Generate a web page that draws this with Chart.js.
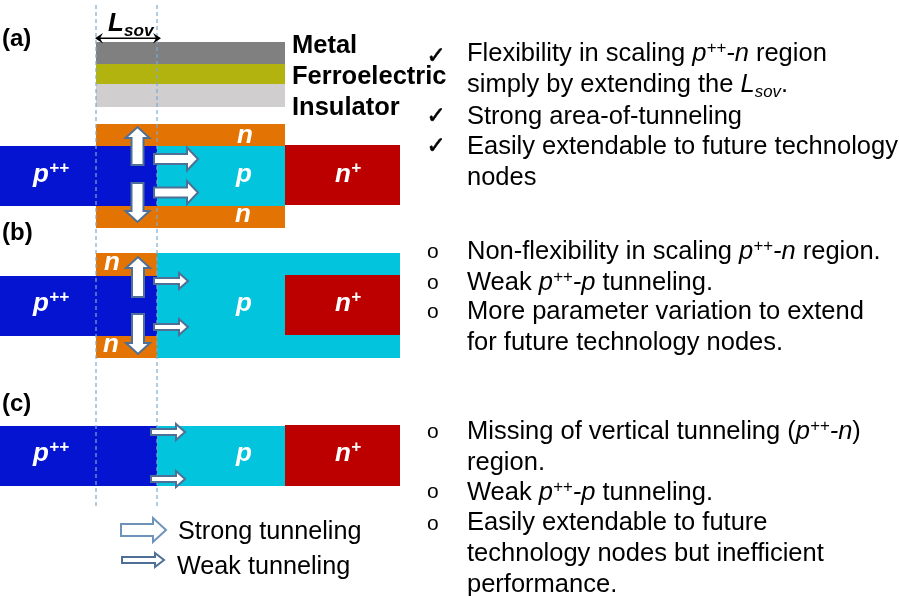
<!DOCTYPE html>
<html>
<head>
<meta charset="utf-8">
<title>Tunneling regions</title>
<script src="https://cdn.jsdelivr.net/npm/chart.js@4/dist/chart.umd.js"></script>
<style>
  html, body { margin: 0; padding: 0; background: #fff; }
  canvas { display: block; }
</style>
</head>
<body>
<canvas id="myChart" width="899" height="596"></canvas>
<script>
// Regions of the three device cross sections, listed back to front
const regionNames  = ['metal', 'ferroelectric', 'insulator', 'a n top', 'a n bottom', 'a p++', 'a p', 'a n+',
                      'b p', 'b n top', 'b n bottom', 'b p++', 'b n+', 'c p++', 'c p', 'c n+'];
const regionLeft   = [96, 96, 96, 96, 96, 0, 157, 285, 157, 96, 96, 0, 285, 0, 157, 285];
const regionRight  = [285, 285, 285, 285, 285, 157, 285, 400, 400, 157, 157, 157, 400, 157, 285, 400];
const regionTop    = [42, 64, 84, 124, 206, 146, 146, 145, 253, 253, 336, 276, 275, 426, 426, 425];
const regionBottom = [64, 84, 107, 146, 228, 206, 206, 205, 358, 276, 358, 336, 335, 486, 486, 486];

const GREY = '#808080', OLIVE = '#b3b30f', LIGHT = '#d0cece', ORANGE = '#e37403',
      BLUE = '#0414d0', CYAN = '#02c4dc', RED = '#bc0000';
const regionColors = [GREY, OLIVE, LIGHT, ORANGE, ORANGE, BLUE, CYAN, RED,
                      CYAN, ORANGE, ORANGE, BLUE, RED, BLUE, CYAN, RED];

// L_sov guides
const guideX = [96, 157];
const guideY = [5, 506];

// Tunneling arrows: tail, tip, half widths and head length
const arrowTailX = [137.5, 137.5, 154, 154, 138, 138, 154, 154, 151, 151, 121, 122];
const arrowTailY = [165, 183, 159, 192.5, 297, 314, 281, 327, 432, 479, 530, 560];
const arrowTipX  = [137.5, 137.5, 198, 198, 138, 138, 188, 188, 185, 185, 166, 164];
const arrowTipY  = [127, 222, 159, 192.5, 257, 354, 281, 327, 432, 479, 530, 560];
const arrowShaft = [6, 6, 5, 5, 6, 6, 3, 3, 3, 3, 6, 3];
const arrowHead  = [12, 12, 11.5, 11.5, 12, 12, 8, 8, 8, 8, 12, 7];
const arrowLen   = [11, 11, 11, 11, 11, 11, 9, 9, 9, 9, 13, 9];
const arrowEdge  = ['#4f7096', '#4f7096', '#4f7096', '#4f7096', '#4f7096', '#4f7096', '#4f7096', '#4f7096', '#4f7096', '#4f7096', '#6f93b8', '#4f7096'];

// Text: {i:} italic, {s:} superscript, {u:} subscript
const panelLabels = ['(a)', '(b)', '(c)'];
const panelY = [46, 240, 411];
const layerLabels = ['Metal', 'Ferroelectric', 'Insulator'];
const layerY = [53, 84, 115];
const legendLabels = ['Strong tunneling', 'Weak tunneling'];
const legendX = [178, 177];
const legendY = [539, 574];

const deviceLabels = ['{i:p}{s:++}', '{i:p}', '{i:n}{s:+}', '{i:n}', '{i:n}',
                      '{i:p}{s:++}', '{i:p}', '{i:n}{s:+}', '{i:n}', '{i:n}',
                      '{i:p}{s:++}', '{i:p}', '{i:n}{s:+}'];
const deviceX = [33, 236, 335, 237, 235, 33, 236, 335, 104, 103, 33, 236, 335];
const deviceY = [182, 182, 182, 143, 222, 311, 311, 311, 270, 352, 461, 461, 461];

const noteLines = [
  'Flexibility in scaling {i:p}{s:++}{i:-n} region',
  'simply by extending the {i:L}{u:sov}.',
  'Strong area-of-tunneling',
  'Easily extendable to future technology',
  'nodes',
  'Non-flexibility in scaling {i:p}{s:++}{i:-n} region.',
  'Weak {i:p}{s:++}{i:-p} tunneling.',
  'More parameter variation to extend',
  'for future technology nodes.',
  'Missing of vertical tunneling ({i:p}{s:++}{i:-n})',
  'region.',
  'Weak {i:p}{s:++}{i:-p} tunneling.',
  'Easily extendable to future',
  'technology nodes but inefficient',
  'performance.'
];
const noteY = [61, 92, 124, 154, 185, 259, 290, 319, 350, 439, 470, 500, 530, 561, 592];

const checkY = [63, 123, 153];
const bulletY = [258, 289, 318, 438, 498, 530];

// One scatter line per region, filled down to its own edge
const datasets = [];
regionNames.forEach(function(name, i) {
    datasets.unshift({
        label: name,
        data: [{x: regionLeft[i], y: regionTop[i]}, {x: regionRight[i], y: regionTop[i]}],
        showLine: true,
        borderWidth: 0,
        pointRadius: 0,
        backgroundColor: regionColors[i],
        fill: {value: regionBottom[i]}
    });
});
guideX.forEach(function(x, i) {
    datasets.unshift({
        label: 'guide ' + i,
        data: [{x: x, y: guideY[0]}, {x: x, y: guideY[1]}],
        showLine: true,
        borderColor: '#7ea9cf',
        borderWidth: 1.2,
        borderDash: [4, 3],
        pointRadius: 0,
        fill: false
    });
});

// Draws arrows and text through the scales
const overlayPlugin = {
    id: 'overlay',
    afterDatasetsDraw(chart) {
        const ctx = chart.ctx;
        const X = v => chart.scales.x.getPixelForValue(v);
        const Y = v => chart.scales.y.getPixelForValue(v);

        // L_sov marker
        ctx.save();
        ctx.strokeStyle = '#000';
        ctx.fillStyle = '#000';
        ctx.lineWidth = 1.4;
        ctx.beginPath();
        ctx.moveTo(X(98), Y(38.3));
        ctx.lineTo(X(158), Y(38.3));
        ctx.stroke();
        ctx.beginPath();
        ctx.moveTo(X(95), Y(38.3)); ctx.lineTo(X(103), Y(33)); ctx.lineTo(X(100), Y(38.3)); ctx.lineTo(X(103), Y(43.5));
        ctx.closePath();
        ctx.moveTo(X(161), Y(38.3)); ctx.lineTo(X(153), Y(33)); ctx.lineTo(X(156), Y(38.3)); ctx.lineTo(X(153), Y(43.5));
        ctx.closePath();
        ctx.fill();
        ctx.restore();

        arrowTailX.forEach(function(_, i) {
            drawArrow(ctx, X(arrowTailX[i]), Y(arrowTailY[i]), X(arrowTipX[i]), Y(arrowTipY[i]),
                arrowShaft[i], arrowHead[i], arrowLen[i], arrowEdge[i]);
        });

        panelLabels.forEach((t, i) => drawRuns(ctx, t, X(2), Y(panelY[i]), 'bold', 24, '#000'));
        layerLabels.forEach((t, i) => drawRuns(ctx, t, X(292), Y(layerY[i]), 'bold', 25.5, '#000'));
        legendLabels.forEach((t, i) => drawRuns(ctx, t, X(legendX[i]), Y(legendY[i]), 'normal', 25.2, '#000'));
        deviceLabels.forEach((t, i) => drawRuns(ctx, t, X(deviceX[i]), Y(deviceY[i]), 'bold', 26, '#fff'));
        drawRuns(ctx, '{i:L}{u:sov}', X(108), Y(31), 'bold', 26, '#000');
        noteLines.forEach((t, i) => drawRuns(ctx, t, X(467), Y(noteY[i]), 'normal', 25.5, '#000'));

        ctx.fillStyle = '#000';
        ctx.strokeStyle = '#000';
        ctx.lineWidth = 0.6;
        ctx.textBaseline = 'alphabetic';
        ctx.font = '23px "DejaVu Sans"';
        checkY.forEach(function(y) {
            ctx.fillText('✓', X(426.5), Y(y));
            ctx.strokeText('✓', X(426.5), Y(y));
        });
        ctx.font = '21px "Liberation Sans"';
        bulletY.forEach(y => ctx.fillText('o', X(427), Y(y)));
    }
};

function drawArrow(ctx, x0, y0, x1, y1, shaft, head, len, edge) {
    const L = Math.hypot(x1 - x0, y1 - y0);
    const ux = (x1 - x0) / L, uy = (y1 - y0) / L;
    const nx = -uy, ny = ux;
    const bx = x1 - ux * len, by = y1 - uy * len;
    ctx.save();
    ctx.beginPath();
    ctx.moveTo(x0 + nx * shaft, y0 + ny * shaft);
    ctx.lineTo(bx + nx * shaft, by + ny * shaft);
    ctx.lineTo(bx + nx * head, by + ny * head);
    ctx.lineTo(x1, y1);
    ctx.lineTo(bx - nx * head, by - ny * head);
    ctx.lineTo(bx - nx * shaft, by - ny * shaft);
    ctx.lineTo(x0 - nx * shaft, y0 - ny * shaft);
    ctx.closePath();
    ctx.fillStyle = '#fff';
    ctx.fill();
    ctx.strokeStyle = edge;
    ctx.lineWidth = 2;
    ctx.stroke();
    ctx.restore();
}

// Splits a marked-up string and draws its runs one after another
function drawRuns(ctx, text, x, y, weight, size, color) {
    const parts = text.split(/(\{[isu]:[^}]*\})/).filter(Boolean);
    ctx.save();
    ctx.fillStyle = color;
    ctx.textBaseline = 'alphabetic';
    ctx.textAlign = 'left';
    let cx = x;
    parts.forEach(function(part) {
        const m = part.match(/^\{([isu]):([^}]*)\}$/);
        const kind = m ? m[1] : '';
        const str = m ? m[2] : part;
        let fs = size, dy = 0, style = '';
        if (kind === 'i') style = 'italic ';
        if (kind === 's') { style = 'italic '; fs = size * 0.66; dy = -size * 0.33; }
        if (kind === 'u') { style = 'italic '; fs = size * 0.66; dy = size * 0.2; }
        ctx.font = style + weight + ' ' + fs + 'px "Liberation Sans"';
        ctx.fillText(str, cx, y + dy);
        cx += ctx.measureText(str).width;
    });
    ctx.restore();
}

new Chart(document.getElementById('myChart').getContext('2d'), {
    type: 'scatter',
    data: {datasets: datasets},
    options: {
        responsive: false,
        animation: false,
        layout: {padding: 0},
        plugins: {legend: {display: false}, tooltip: {enabled: false}, title: {display: false}},
        scales: {
            x: {type: 'linear', min: 0, max: 899, display: false},
            y: {type: 'linear', min: 0, max: 596, reverse: true, display: false}
        }
    },
    plugins: [overlayPlugin]
});
</script>
</body>
</html>
